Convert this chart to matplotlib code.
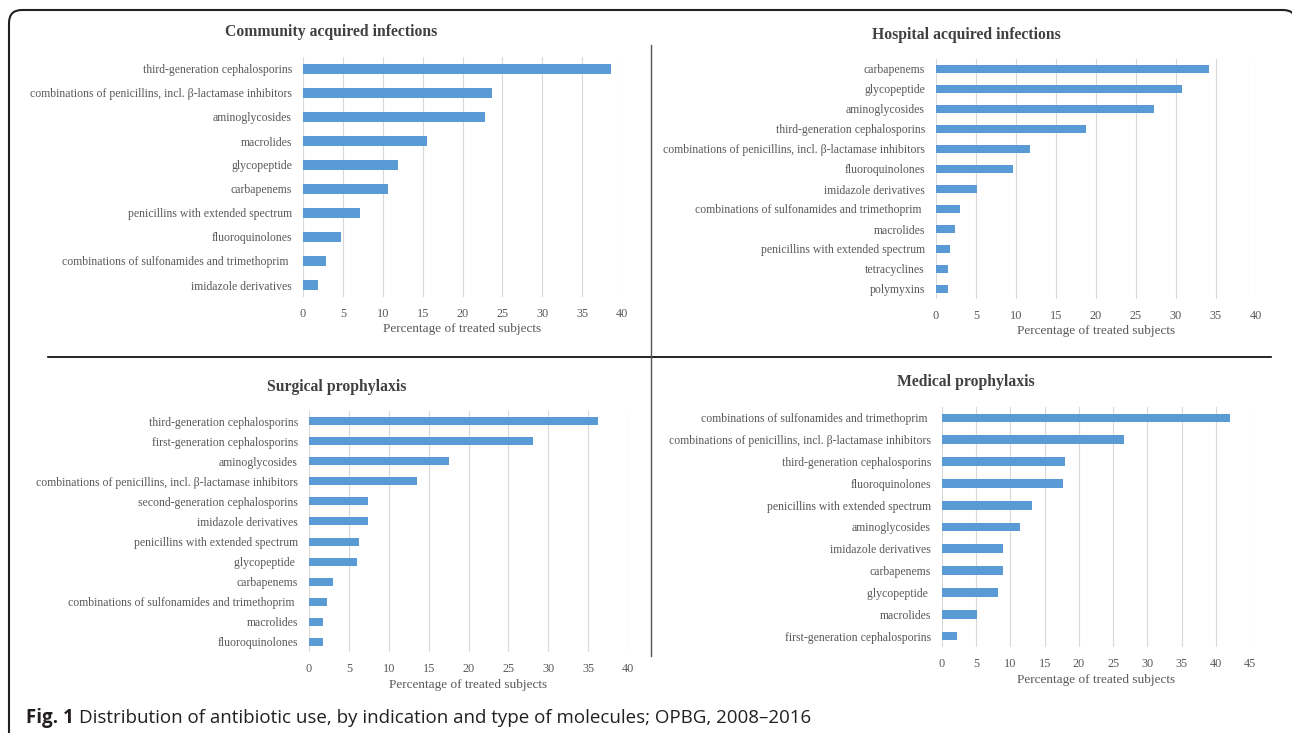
import matplotlib.pyplot as plt
from matplotlib.patches import PathPatch
from matplotlib.path import Path
from matplotlib.lines import Line2D

W, H = 1292, 733
BAR = '#5B9BD5'
GRID = '#D9D9D9'
TXT = '#595959'
SERIF = ['Liberation Serif', 'DejaVu Serif']
SANS = ['Open Sans', 'DejaVu Sans']

# --- data (categories listed top to bottom) ---
community_cats = [
    'third-generation cephalosporins',
    'combinations of penicillins, incl. β-lactamase inhibitors',
    'aminoglycosides',
    'macrolides',
    'glycopeptide',
    'carbapenems',
    'penicillins with extended spectrum',
    'fluoroquinolones',
    'combinations of sulfonamides and trimethoprim ',
    'imidazole derivatives',
]
community_vals = [38.6, 23.7, 22.8, 15.6, 11.9, 10.6, 7.1, 4.8, 2.9, 1.9]

hospital_cats = [
    'carbapenems',
    'glycopeptide',
    'aminoglycosides',
    'third-generation cephalosporins',
    'combinations of penicillins, incl. β-lactamase inhibitors',
    'fluoroquinolones',
    'imidazole derivatives',
    'combinations of sulfonamides and trimethoprim ',
    'macrolides',
    'penicillins with extended spectrum',
    'tetracyclines',
    'polymyxins',
]
hospital_vals = [34.1, 30.8, 27.2, 18.8, 11.7, 9.6, 5.1, 3.0, 2.4, 1.8, 1.5, 1.5]

surgical_cats = [
    'third-generation cephalosporins',
    'first-generation cephalosporins',
    'aminoglycosides',
    'combinations of penicillins, incl. β-lactamase inhibitors',
    'second-generation cephalosporins',
    'imidazole derivatives',
    'penicillins with extended spectrum',
    'glycopeptide ',
    'carbapenems',
    'combinations of sulfonamides and trimethoprim ',
    'macrolides',
    'fluoroquinolones',
]
surgical_vals = [36.3, 28.1, 17.6, 13.5, 7.4, 7.4, 6.3, 6.0, 3.0, 2.2, 1.7, 1.7]

medical_cats = [
    'combinations of sulfonamides and trimethoprim ',
    'combinations of penicillins, incl. β-lactamase inhibitors',
    'third-generation cephalosporins',
    'fluoroquinolones',
    'penicillins with extended spectrum',
    'aminoglycosides',
    'imidazole derivatives',
    'carbapenems',
    'glycopeptide ',
    'macrolides',
    'first-generation cephalosporins',
]
medical_vals = [42.1, 26.6, 17.9, 17.7, 13.1, 11.4, 8.9, 8.9, 8.2, 5.1, 2.2]

x_label = 'Percentage of treated subjects'
caption_bold = 'Fig. 1'
caption_rest = 'Distribution of antibiotic use, by indication and type of molecules; OPBG, 2008\u20132016'


def px_rect(x0, y0, x1, y1):
    """Pixel box (top-left origin) -> figure fraction rect."""
    return [x0 / W, 1 - y1 / H, (x1 - x0) / W, (y1 - y0) / H]


def draw_panel(fig, box, cats, vals, xmax, title, title_xy, xlabel_y):
    ax = fig.add_axes(px_rect(*box))
    ypos = list(range(len(cats)))
    ax.barh(ypos, vals, height=0.4, color=BAR, zorder=3)
    ax.set_ylim(len(cats) - 0.5, -0.5)
    ax.set_xlim(0, xmax)
    ax.set_xticks(range(0, xmax + 1, 5))
    ax.set_yticks(ypos)
    ax.set_yticklabels(cats, family=SERIF, fontsize=8.5, color=TXT)
    for lbl in ax.get_xticklabels():
        lbl.set_family(SERIF)
        lbl.set_fontsize(8.8)
        lbl.set_color(TXT)
    ax.tick_params(axis='both', length=0)
    ax.tick_params(axis='x', pad=8)
    ax.tick_params(axis='y', pad=8)
    ax.grid(axis='x', color=GRID, linewidth=0.8, zorder=0)
    for s in ax.spines.values():
        s.set_visible(False)
    ax.set_facecolor('none')
    # x label centred under the axes
    cx = (box[0] + box[2]) / 2
    fig.text(cx / W, 1 - xlabel_y / H, x_label, family=SERIF, fontsize=9.5,
             color=TXT, ha='center', va='center')
    fig.text(title_xy[0] / W, 1 - title_xy[1] / H, title, family=SERIF,
             fontsize=11.3, fontweight='bold', color='#404040',
             ha='center', va='center')
    return ax


fig = plt.figure(figsize=(W / 100, H / 100), dpi=100)

draw_panel(fig, (303, 57, 622, 297), community_cats, community_vals, 40,
           'Community acquired infections', (331, 32), 329)
draw_panel(fig, (936, 59, 1256, 299), hospital_cats, hospital_vals, 40,
           'Hospital acquired infections', (966, 35), 331)
draw_panel(fig, (309, 411, 628, 652), surgical_cats, surgical_vals, 40,
           'Surgical prophylaxis', (337, 387), 685)
draw_panel(fig, (942, 407, 1250, 647), medical_cats, medical_vals, 45,
           'Medical prophylaxis', (966, 382), 680)

# outer frame: rounded top corners, right side and bottom run off the page
pts_px = [(1296, 60), (1296, 23), (1296, 10), (1283, 10), (22, 10),
          (9, 10), (9, 23), (9, 760)]
codes = [Path.MOVETO, Path.LINETO, Path.CURVE3, Path.CURVE3, Path.LINETO,
         Path.CURVE3, Path.CURVE3, Path.LINETO]
verts = [(x / 100, (H - y) / 100) for x, y in pts_px]
frame = PathPatch(Path(verts, codes), transform=fig.dpi_scale_trans,
                  fill=False, edgecolor='#231F20', linewidth=1.5, zorder=10)
fig.add_artist(frame)

# dividers between panels
fig.add_artist(Line2D([48 / W, 1271 / W], [1 - 357 / H, 1 - 357 / H],
                      color='black', linewidth=1.2))
fig.add_artist(Line2D([651 / W, 651 / W], [1 - 45 / H, 1 - 656 / H],
                      color='#555555', linewidth=1.0))

# caption: bold lead-in, then the rest placed right after it
cap_y = 1 - 718 / H
t_bold = fig.text(26 / W, cap_y, caption_bold, family=SANS, fontsize=13.5,
                  fontweight='bold', color='#231F20', va='center')
fig.canvas.draw()
bb = t_bold.get_window_extent()
fig.text((bb.x1 + 5) / W, cap_y, caption_rest, family=SANS, fontsize=13.5,
         color='#231F20', va='center')

fig.savefig('out.png', dpi=100)
